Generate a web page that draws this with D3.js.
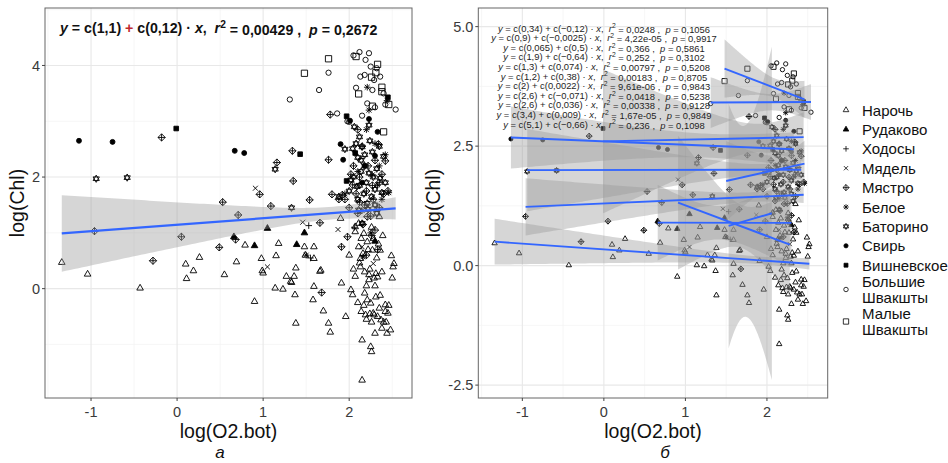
<!DOCTYPE html>
<html><head><meta charset="utf-8">
<script src="https://cdnjs.cloudflare.com/ajax/libs/d3/7.8.5/d3.min.js"></script>
<style>
body{margin:0;background:#fff}
text{font-family:"Liberation Sans",Arial,sans-serif}
</style>
</head><body>
<svg id="c" width="948" height="463"></svg>
<script>
// ---------------- DATA ----------------
const groupNames = ["Нарочь","Рудаково","Ходосы","Мядель","Мястро","Белое","Баторино","Свирь","Вишневское","Большие Швакшты","Малые Швакшты"];

const naroch = [[-1.34,0.47],[-1.04,0.26],[-0.43,0.01],[0.10,0.44],[0.19,0.32],[0.11,0.18],[0.26,0.56],[0.55,0.25],[0.69,0.48],[0.79,0.78],[0.90,-0.23],[0.98,0.54],[0.99,0.32],[1.0,0.28],[1.15,0.59],[1.18,0.81],[1.14,0.01],[1.23,-0.01],[1.27,0.22],[1.33,0.11],[1.36,0.22],[1.37,-0.11],[1.38,0.37],[1.38,-0.62],[1.48,0.75],[1.59,0.75],[1.59,0.54],[1.59,0.04],[1.58,-0.20],[1.67,0.33],[1.66,0.31],[1.70,-0.40],[1.76,-0.62],[1.78,-0.78],[1.90,1.26],[1.91,0.10],[1.96,-0.50],[2.02,-0.02],[2.04,-0.11],[2.07,0.22],[2.13,0.39],[2.18,-0.08],[2.14,-0.41],[2.15,-0.92],[2.25,-1.04],[2.26,-1.13],[2.15,-1.64],[2.19,-0.47],[2.25,-0.26],[2.28,-0.44],[2.33,-0.50],[2.37,-0.56],[2.38,-0.71],[2.42,-0.29],[2.45,-0.44],[2.44,-0.80],[2.48,-0.74],[2.49,0.59],[2.51,0.39],[2.50,0.19],[2.52,0.45],[2.35,1.29],[2.36,0.69],[2.31,0.27],[2.33,0.21],[2.13,0.54],[2.11,0.75],[2.17,0.99],[2.21,0.84],[2.07,1.11],
[2.12,0.46],[2.16,0.63],[2.27,0.69],[2.23,0.16],[2.29,0.19],[2.23,0.25],[2.21,-0.20],[2.29,-0.47],[2.42,-0.41],[1.49,0.60],[1.32,0.13],[2.07,1.02],[2.11,1.17],[2.24,0.35],[2.30,0.05],[2.32,0.55],[2.38,0.30],[2.20,0.05],[2.26,-0.60],[2.35,-0.35],[2.40,-0.60],[2.31,-0.15],[2.18,0.30],[2.22,0.70],[2.28,0.90],[2.34,0.80],[2.39,0.95],[2.26,1.10],[2.14,0.90],[2.00,0.60],[2.05,0.35],[2.10,-0.25],[2.36,-0.12],[2.43,-0.60],[2.20,-0.55],[2.24,-0.45],[2.46,-0.30],[2.30,-0.80],[2.17,-0.30]];
const rudakovo = [[0.66,0.93],[0.90,0.77],[1.05,1.08],[1.39,0.79],[1.48,1.00],[2.30,0.85]];
const khodosy = [[1.53,1.13],[1.55,0.55],[2.06,1.10]];
const myadel = [[0.91,1.80],[1.46,1.19],[1.87,1.06],[1.05,0.39],[2.28,0.45],[2.15,0.75]];
const myastro = [[-0.96,1.03],[-0.28,0.50],[-0.18,2.71],[0.05,0.93],[0.49,0.74],[0.53,1.55],[0.71,1.32],[0.68,0.88],[0.96,1.69],[1.09,1.48],[1.16,2.26],[1.34,2.47],[1.35,1.93],[1.54,1.59],[1.66,1.18],[1.68,-0.07],[1.78,3.12],[1.76,2.31],[1.80,1.69],[1.91,0.75],[1.98,0.93],[1.92,1.68],[2.34,2.59],[2.42,2.29],[2.04,1.86],[2.21,1.29],
[2.10,2.85],[2.15,2.55],[2.05,2.20],[2.12,2.00],[2.20,1.75],[2.28,1.60],[2.35,1.90],[2.40,1.70],[2.18,1.50],[2.25,1.30],[2.30,1.05],[2.12,1.55],[2.08,1.70],[2.22,2.20],[2.30,2.30],[2.38,2.05],[2.16,1.15],[2.26,0.95],[2.33,0.70],[2.20,0.60],[1.95,1.60],[2.00,1.45],[1.88,1.60],[2.45,1.75],[2.10,1.35],[2.27,1.85],[2.35,1.45],[2.02,2.05]];
const beloe = [[2.21,3.61],[2.23,3.20],[2.44,3.37],[2.42,2.40],[2.46,1.72],[2.27,2.04],[1.50,0.60],[2.16,0.57],[2.33,1.86],[2.20,2.85],[2.30,2.60],[2.10,2.10],[2.38,1.60],[2.15,1.40],[2.25,1.00],[1.95,1.70],[2.35,2.20]];
const batorino = [[-0.94,1.97],[-0.58,1.99],[1.14,2.14],[1.33,1.45],[2.12,2.72],[2.15,2.54],[2.04,2.51],[2.23,2.93],[2.40,2.37],[2.23,2.07],[2.09,1.83],[2.36,1.98],[2.11,1.41],[2.21,1.53],[2.15,1.17],
[2.06,2.90],[2.10,2.35],[2.18,2.20],[2.27,2.45],[2.32,2.15],[2.14,2.10],[2.05,2.00],[2.20,1.90],[2.30,1.78],[2.38,1.72],[2.26,1.65],[2.17,1.70],[2.12,1.85],[2.00,1.75],[1.95,2.50],[2.08,2.60],[2.28,2.00],[2.35,2.55],[2.42,1.90],[2.22,1.42],[2.30,1.50],[2.10,1.60],[2.18,2.40],[2.24,2.65],[1.88,1.65],[2.02,1.95],[2.32,1.35],[2.14,2.30]];
const svir = [[-1.14,2.65],[-0.75,2.63],[0.67,2.47],[0.78,2.43],[1.90,2.59],[1.93,2.31],[2.01,3.01],[2.23,3.04],[2.33,2.81],[2.15,1.90],[2.18,2.20],[2.30,2.38]];
const vishnevskoe = [[-0.01,2.87],[1.43,2.41],[1.97,3.09],[2.07,2.43],[1.97,1.93],[2.45,3.43]];
const bShvakshty = [[1.31,3.39],[1.65,3.56],[1.76,3.87],[1.86,3.14],[2.00,2.99],[2.12,4.24],[2.19,4.10],[2.23,4.22],[2.25,3.98],[2.13,3.80],[2.18,3.83],[2.29,3.74],[2.36,3.80],[2.21,3.32],[2.27,3.56],[2.54,3.21],[2.05,4.18],[2.32,3.95],[2.40,3.50],[1.98,3.00],[2.15,3.10],[2.30,3.25],[2.08,3.60],[2.42,3.30]];
const mShvakshty = [[1.48,3.86],[1.76,4.12],[2.08,4.16],[2.33,4.02],[2.31,3.87],[2.26,3.79],[2.11,3.49],[2.38,3.61],[2.38,3.53],[2.27,3.27],[2.40,2.81],[2.46,3.30]];

const groupData = [naroch,rudakovo,khodosy,myadel,myastro,beloe,batorino,svir,vishnevskoe,bShvakshty,mShvakshty];

// per-group linear fits (panel б)
const fitIntercept = [0.34,0.9,0.065,1.9,1.3,1.2,2,2.6,2.6,3.4,5.1];
const fitSlope     = [-0.12,-0.0025,0.5,-0.64,0.074,0.38,0.0022,-0.071,0.036,0.009,-0.66];
const bandCenterX  = [1.9,1.4,1.72,1.7,1.8,2.15,1.9,1.3,1.9,2.05,2.1];
const bandMinHalf  = [0.08,0.35,2.0,0.45,0.1,0.3,0.12,0.25,0.3,0.17,0.2];
const bandSpread   = [0.146,0.96,8.4,1.68,0.214,1.2,0.3,0.246,0.773,0.68,0.93];
const labelA  = ["0,34","0,9","0,065","1,9","1,3","1,2","2","2,6","2,6","3,4","5,1"];
const labelB  = ["−0,12","−0,0025","0,5","−0,64","0,074","0,38","0,0022","−0,071","0,036","0,009","−0,66"];
const labelR2 = ["0,0248","4,22e-05","0,366","0,252","0,00797","0,00183","9,61e-06","0,0418","0,00338","1,67e-05","0,236"];
const labelP  = ["0,1056","0,9917","0,5861","0,3102","0,5208","0,8705","0,9843","0,5238","0,9128","0,9849","0,1098"];

// overall fit (panel а)
const allFit = {a:1.145, b:0.116, cx:1.78, h0:0.113, k:0.217};
const allLabel = {a:"1,1", b:"0,12", r2:"0,00429", p:"0,2672"};

const xTicks = [-1,0,1,2];
const xMinor = [-1.5,-0.5,0.5,1.5,2.5];
const yTicksL = [0,2,4], yMinorL = [-1,1,3,5];
const yTicksR = [-2.5,0,2.5,5], yMinorR = [-1.25,1.25,3.75];

// ---------------- DRAW ----------------
const shapes = ["triOpen","triFill","plus","cross","diamondPlus","asterisk","david","dot","square","circleOpen","squareOpen"];
function symPath(shape, r){
  const tri = (s)=>`M0,${-1.15*r*s}L${r},${0.6*r*s}L${-r},${0.6*r*s}Z`;
  const plus = `M${-r},0H${r}M0,${-r}V${r}`;
  const a = r*0.75;
  const cross = `M${-a},${-a}L${a},${a}M${-a},${a}L${a},${-a}`;
  const circ = (c)=>`M${-c},0A${c},${c} 0 1,0 ${c},0A${c},${c} 0 1,0 ${-c},0Z`;
  const sq = (s)=>`M${-s},${-s}H${s}V${s}H${-s}Z`;
  const d = r*1.1;
  switch(shape){
    case "triOpen": case "triFill": return tri(1);
    case "plus": return plus;
    case "cross": return cross;
    case "diamondPlus": return `M0,${-d}L${d},0L0,${d}L${-d},0Z M${-d},0H${d}M0,${-d}V${d}`;
    case "asterisk": return plus+cross;
    case "david": { const w=0.95*r, t=1.1*r, b=0.55*r;
      return `M0,${-t}L${w},${b}L${-w},${b}Z M0,${t}L${w},${-b}L${-w},${-b}Z`; }
    case "dot": return circ(0.75*r);
    case "square": return sq(0.7*r);
    case "circleOpen": return circ(0.8*r);
    case "squareOpen": return sq(0.95*r);
  }
}
const filled = s => (s==="triFill"||s==="dot"||s==="square");

const svg = d3.select("#c");
const blue = "#3366FF";

function drawPanel(o){
  const g = svg.append("g");
  const x = o.x, y = o.y;
  const [x0,x1] = x.range(), [y0,y1] = y.range();
  const clipId = "clip"+o.id;
  svg.append("clipPath").attr("id",clipId).append("rect")
    .attr("x",x0).attr("y",y1).attr("width",x1-x0).attr("height",y0-y1);
  // grid
  const grid = g.append("g");
  o.xMinor.forEach(v=>grid.append("line").attr("x1",x(v)).attr("x2",x(v)).attr("y1",y1).attr("y2",y0).attr("stroke","#f2f2f2").attr("stroke-width",0.7));
  o.yMinor.forEach(v=>grid.append("line").attr("y1",y(v)).attr("y2",y(v)).attr("x1",x0).attr("x2",x1).attr("stroke","#f2f2f2").attr("stroke-width",0.7));
  o.xTicks.forEach(v=>grid.append("line").attr("x1",x(v)).attr("x2",x(v)).attr("y1",y1).attr("y2",y0).attr("stroke","#e8e8e8").attr("stroke-width",1.1));
  o.yTicks.forEach(v=>grid.append("line").attr("y1",y(v)).attr("y2",y(v)).attr("x1",x0).attr("x2",x1).attr("stroke","#e8e8e8").attr("stroke-width",1.1));
  grid.attr("clip-path",`url(#${clipId})`);

  // points
  const pts = g.append("g").attr("clip-path",`url(#${clipId})`);
  groupData.forEach((arr,gi)=>{
    const sh = shapes[gi];
    pts.selectAll(null).data(arr).enter().append("path")
      .attr("transform",d=>`translate(${x(d[0])},${y(d[1])})`)
      .attr("d",symPath(sh,o.r))
      .attr("fill",filled(sh)?"#000":"none")
      .attr("stroke","#000").attr("stroke-width",0.9);
  });

  // bands + lines
  const bands = g.append("g").attr("clip-path",`url(#${clipId})`);
  const lines = g.append("g").attr("clip-path",`url(#${clipId})`);
  o.fits.forEach(f=>{
    const ext = f.extent;
    const xs = d3.range(ext[0], ext[1], (ext[1]-ext[0])/80).concat([ext[1]]);
    const hw = v => Math.sqrt(f.h0*f.h0 + f.k*f.k*(v-f.cx)*(v-f.cx));
    const area = d3.area().x(v=>x(v)).y0(v=>y(f.a+f.b*v-hw(v))).y1(v=>y(f.a+f.b*v+hw(v)));
    bands.append("path").attr("d",area(xs)).attr("fill","#999999").attr("fill-opacity",0.4);
    lines.append("line").attr("x1",x(ext[0])).attr("x2",x(ext[1]))
      .attr("y1",y(f.a+f.b*ext[0])).attr("y2",y(f.a+f.b*ext[1]))
      .attr("stroke",blue).attr("stroke-width",o.lw);
  });

  // border
  g.append("rect").attr("x",x0).attr("y",y1).attr("width",x1-x0).attr("height",y0-y1)
    .attr("fill","none").attr("stroke","#666").attr("stroke-width",1);

  // axes
  const ax = g.append("g");
  o.xTicks.forEach(v=>{
    ax.append("line").attr("x1",x(v)).attr("x2",x(v)).attr("y1",y0).attr("y2",y0+3).attr("stroke","#444");
    ax.append("text").attr("x",x(v)).attr("y",416.5).attr("text-anchor","middle").attr("font-size",14.5).attr("fill","#3a3a3a").text(String(v));
  });
  o.yTicks.forEach(v=>{
    ax.append("line").attr("x1",x0-3).attr("x2",x0).attr("y1",y(v)).attr("y2",y(v)).attr("stroke","#444");
    ax.append("text").attr("x",x0-5).attr("y",y(v)+5.3).attr("text-anchor","end").attr("font-size",14.5).attr("fill","#3a3a3a").text(o.yFmt(v));
  });
  // titles
  const cx = (x0+x1)/2;
  g.append("text").attr("x",cx).attr("y",438).attr("text-anchor","middle").attr("font-size",19.5).attr("fill","#111").text("log(O2.bot)");
  g.append("text").attr("x",o.subX).attr("y",458).attr("text-anchor","middle").attr("font-size",17).attr("font-style","italic").attr("fill","#111").text(o.sub);
  g.append("text").attr("transform",`translate(${o.yTitleX},${(y0+y1)/2}) rotate(-90)`).attr("text-anchor","middle").attr("font-size",19.5).attr("fill","#111").text("log(Chl)");
  return g;
}

function eqLabel(parent, xPos, yPos, anchor, size, weight, fill, a, b, r2, p, redPlus){
  const t = parent.append("text").attr("x",xPos).attr("y",yPos).attr("text-anchor",anchor)
    .attr("font-size",size).attr("font-weight",weight).attr("fill",fill).style("white-space","pre");
  const parts = [
    {t:"y",i:1},{t:" = c("+a+") "},{t:"+",red:redPlus},{t:" c("+b+") · "},{t:"x",i:1},{t:",  "},
    {t:"r",i:1},{t:"2",sup:1},{t:" = "+r2+" ,  ",down:1},{t:"p",i:1},{t:" = "+p}];
  parts.forEach(pt=>{
    const s = t.append("tspan").text(pt.t);
    if(pt.i) s.attr("font-style","italic");
    if(pt.red) s.attr("fill","#c0282d");
    if(pt.sup) s.attr("dy","-0.45em").attr("font-size",size*0.72);
    if(pt.down) s.attr("dy","0.45em");
  });
  return t;
}

// Panel a
const xL = d3.scaleLinear().domain([-1.535,2.73]).range([45,412]);
const yL = d3.scaleLinear().domain([-1.96,5.03]).range([398,8]);
const allPts = groupData.flat();
const gL = drawPanel({id:"L", x:xL, y:yL, r:3.3, lw:2.2, xTicks, xMinor, yTicks:yTicksL, yMinor:yMinorL,
  yFmt:v=>String(v), sub:"a", subX:220, yTitleX:24,
  fits:[{a:allFit.a,b:allFit.b,cx:allFit.cx,h0:allFit.h0,k:allFit.k,extent:d3.extent(allPts,d=>d[0])}]});
eqLabel(gL, 60, 33, "start", 14.2, "bold", "#111", allLabel.a, allLabel.b, allLabel.r2, allLabel.p, true);

// Panel b
const xR = d3.scaleLinear().domain([-1.54,2.745]).range([478.3,827.7]);
const yR = d3.scaleLinear().domain([-2.77,5.39]).range([398,8]);
const fitsR = groupData.map((arr,i)=>({a:fitIntercept[i], b:fitSlope[i], cx:bandCenterX[i], h0:bandMinHalf[i], k:bandSpread[i], extent:d3.extent(arr,d=>d[0])}));
const gR = drawPanel({id:"R", x:xR, y:yR, r:2.7, lw:1.9, xTicks, xMinor, yTicks:yTicksR, yMinor:yMinorR,
  yFmt:v=>v.toFixed(1), sub:"б", subX:665, yTitleX:440, fits:fitsR});
groupNames.forEach((n,i)=>{
  eqLabel(gR, 604, 31.5+i*9.6, "middle", 9.4, "normal", "#1e1e1e", labelA[i], labelB[i], labelR2[i], labelP[i], false);
});

// Legend
const legY = [110,129.4,148.8,168.2,187.6,207,226.4,245.8,265.2,289.5,321.5];
const leg = svg.append("g");
groupNames.forEach((n,i)=>{
  const sh = shapes[i];
  leg.append("path").attr("transform",`translate(846,${legY[i]})`).attr("d",symPath(sh,2.8))
    .attr("fill",filled(sh)?"#000":"none").attr("stroke","#000").attr("stroke-width",0.8);
  const words = n.split(" ");
  const t = leg.append("text").attr("x",862).attr("font-size",15).attr("fill","#111");
  if(words.length===1){ t.attr("y",legY[i]+5.5).text(n); }
  else {
    words.forEach((w,j)=>t.append("tspan").attr("x",862).attr("y",legY[i]+5.5+(j-0.5)*16.5).text(w));
  }
});
</script>
</body></html>
